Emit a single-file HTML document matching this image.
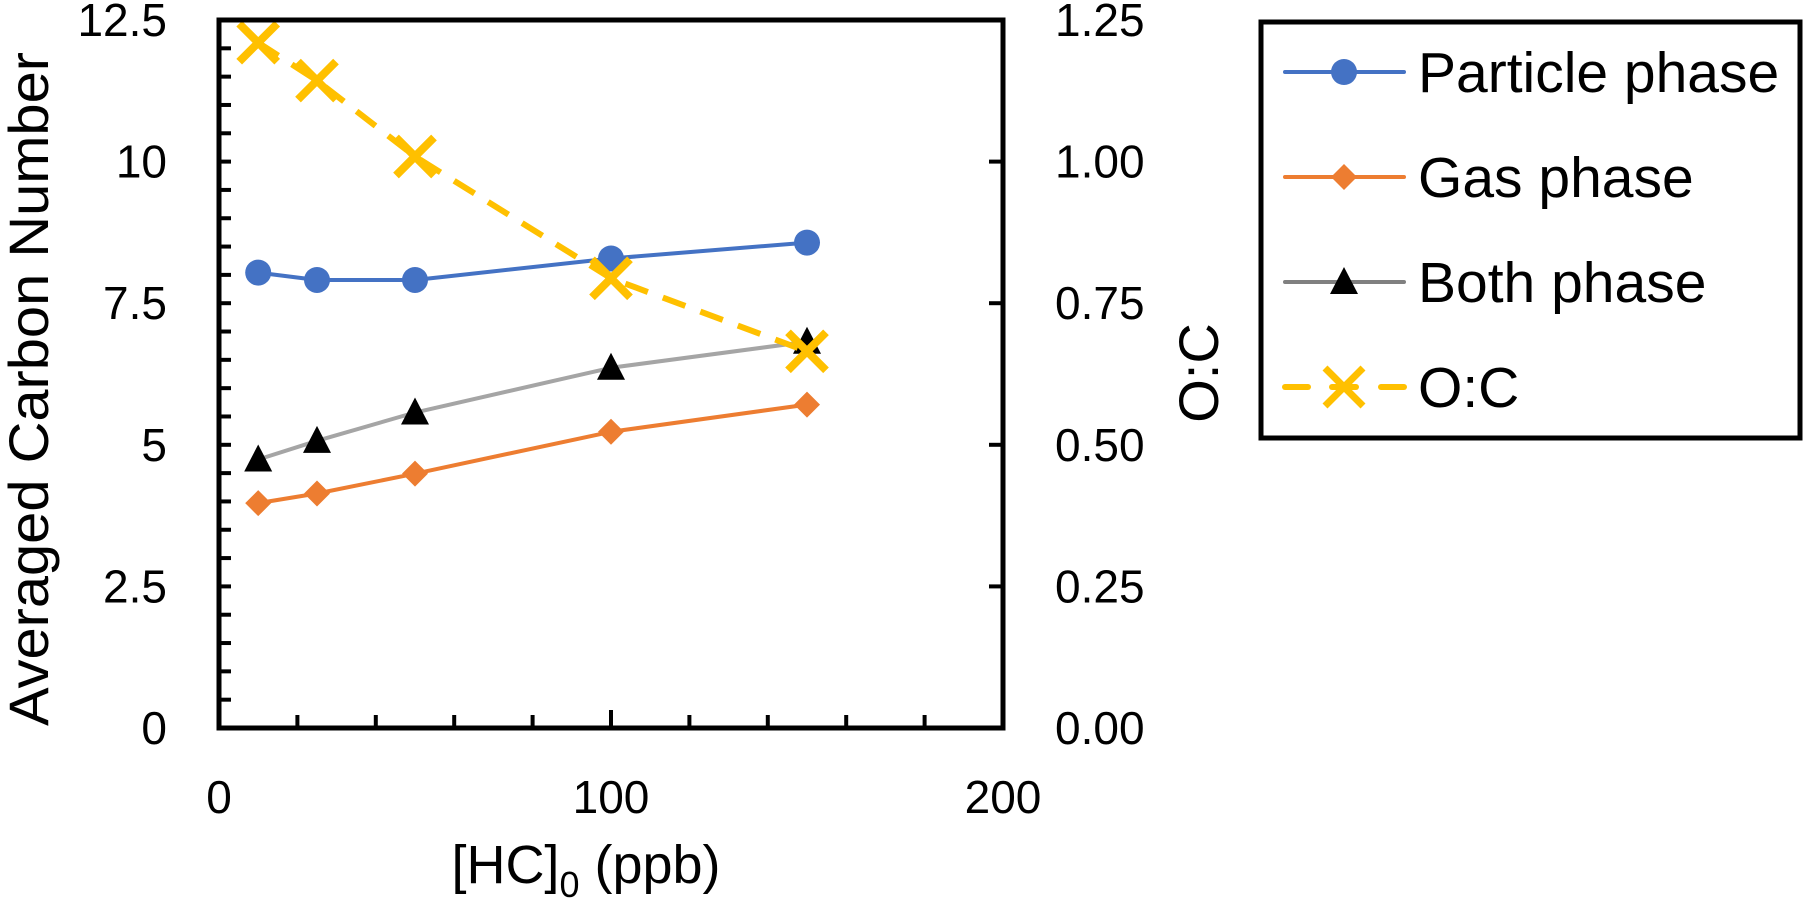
<!DOCTYPE html>
<html><head><meta charset="utf-8">
<style>
html,body{margin:0;padding:0;background:#fff;}
svg{display:block;font-family:"Liberation Sans",sans-serif;}
</style></head>
<body>
<svg id="chart" width="1805" height="900" viewBox="0 0 1805 900" xmlns="http://www.w3.org/2000/svg">
<rect x="0" y="0" width="1805" height="900" fill="#fff"/>
<g id="grid"></g>
<g id="series"></g>
<g id="axes"></g>
<g id="legend"></g>
</svg>
<script>
const categories = [10, 25, 50, 100, 150];
const particleValues = [8.04, 7.91, 7.91, 8.29, 8.57];
const gasValues = [3.97, 4.14, 4.49, 5.23, 5.71];
const bothValues = [4.74, 5.07, 5.57, 6.36, 6.82];
const ocValues = [1.21, 1.143, 1.009, 0.794, 0.665];
const xTicks = [0, 100, 200];
const yLeftTicks = ["0", "2.5", "5", "7.5", "10", "12.5"];
const yRightTicks = ["0.00", "0.25", "0.50", "0.75", "1.00", "1.25"];

const NS = "http://www.w3.org/2000/svg";
const L = 219, R = 1003, T = 20, B = 728;
function xs(v){ return L + (v - 0) / 200 * (R - L); }
function yl(v){ return B - v / 12.5 * (B - T); }
function yr(v){ return B - v / 1.25 * (B - T); }
function mk(tag, attrs, parent){
  const e = document.createElementNS(NS, tag);
  for (const k in attrs) e.setAttribute(k, attrs[k]);
  parent.appendChild(e);
  return e;
}
const axes = document.getElementById('axes');
const series = document.getElementById('series');
const legend = document.getElementById('legend');

function line(vals, yf, color, w, dash, name){
  const pts = categories.map((c,i)=>xs(c)+','+yf(vals[i])).join(' ');
  const p = mk('polyline', {points: pts, fill:'none', stroke:color, 'stroke-width':w, 'stroke-linejoin':'round', 'stroke-linecap': dash ? 'butt':'round'}, series);
  if (dash) p.setAttribute('stroke-dasharray', dash);
  
  
}
function circle(cx, cy, parent, name){
  const e = mk('circle', {cx:cx, cy:cy, r:13, fill:'#4472C4'}, parent);
  
  
}
function diamond(cx, cy, parent, name){
  const s = 13;
  const e = mk('polygon', {points:`${cx},${cy-s} ${cx+s},${cy} ${cx},${cy+s} ${cx-s},${cy}`, fill:'#ED7D31'}, parent);
  
  
}
function tri(cx, cy, parent, name){
  const e = mk('polygon', {points:`${cx},${cy-15} ${cx+14},${cy+12} ${cx-14},${cy+12}`, fill:'#000'}, parent);
  
  
}
function cross(cx, cy, parent, name){
  const s = 19;
  const e = mk('path', {d:`M${cx-s},${cy-s}L${cx+s},${cy+s}M${cx+s},${cy-s}L${cx-s},${cy+s}`, stroke:'#FFC000', 'stroke-width':8, fill:'none'}, parent);
  
  
}
line(particleValues, yl, '#4472C4', 4, null, 'particle-phase-line');
line(gasValues, yl, '#ED7D31', 4, null, 'gas-phase-line');
line(bothValues, yl, '#A5A5A5', 4, null, 'both-phase-line');
categories.forEach((c,i)=>{
  circle(xs(c), yl(particleValues[i]), series, 'particle-point');
  diamond(xs(c), yl(gasValues[i]), series, 'gas-point');
  tri(xs(c), yl(bothValues[i]), series, 'both-point');
});
line(ocValues, yr, '#FFC000', 6, '24 16', 'oc-line');
categories.forEach((c,i)=>{ cross(xs(c), yr(ocValues[i]), series, 'oc-point'); });

const frame = mk('rect', {x:L, y:T, width:R-L, height:B-T, fill:'none', stroke:'#000', 'stroke-width':5}, axes);



for (let v = 0.5; v < 12.5; v += 0.5){
  const t = mk('line', {x1:L, x2:L+12, y1:yl(v), y2:yl(v), stroke:'#000', 'stroke-width':4}, axes);
  
  
}
yRightTicks.forEach((lab,i)=>{
  const y = yr(i*0.25);
  const t = mk('line', {x1:R-14, x2:R, y1:y, y2:y, stroke:'#000', 'stroke-width':4}, axes);
  
  
  const tx = mk('text', {x:1055, y:y+16, 'font-size':46, fill:'#000'}, axes);
  tx.textContent = lab;
  
  
});
yLeftTicks.forEach((lab,i)=>{
  const y = yl(i*2.5);
  const tx = mk('text', {x:167, y:y+16, 'font-size':46, 'text-anchor':'end', fill:'#000'}, axes);
  tx.textContent = lab;
  
  
});
for (let v = 20; v < 200; v += 20){
  const len = (v === 100) ? 18 : 13;
  const t = mk('line', {x1:xs(v), x2:xs(v), y1:B, y2:B-len, stroke:'#000', 'stroke-width':4}, axes);
  
  
}
xTicks.forEach(v=>{
  const tx = mk('text', {x:xs(v), y:813, 'font-size':46, 'text-anchor':'middle', fill:'#000'}, axes);
  tx.textContent = String(v);
  
  
});
</script>
<svg style="position:absolute;left:0;top:0" width="1805" height="900" viewBox="0 0 1805 900">
<text x="586" y="883" font-size="54" text-anchor="middle" font-family="Liberation Sans, sans-serif">[HC]<tspan font-size="36" dy="14">0</tspan><tspan dy="-14"> (ppb)</tspan></text>
<text transform="translate(48,389) rotate(-90)" font-size="56" text-anchor="middle" textLength="674" lengthAdjust="spacingAndGlyphs" font-family="Liberation Sans, sans-serif">Averaged Carbon Number</text>
<text transform="translate(1218,373) rotate(-90)" font-size="56" text-anchor="middle" font-family="Liberation Sans, sans-serif">O:C</text>
<g>
<rect x="1261" y="22" width="539" height="416" fill="#fff" stroke="#000" stroke-width="5"/>
<g>
<line x1="1285" y1="72" x2="1404" y2="72" stroke="#4472C4" stroke-width="4" stroke-linecap="round"/>
<circle cx="1344" cy="72" r="13" fill="#4472C4"/>
<text x="1418" y="92" font-size="57" font-family="Liberation Sans, sans-serif">Particle phase</text>
</g>
<g>
<line x1="1285" y1="177" x2="1404" y2="177" stroke="#ED7D31" stroke-width="4" stroke-linecap="round"/>
<polygon points="1344,164 1357,177 1344,190 1331,177" fill="#ED7D31"/>
<text x="1418" y="197" font-size="57" font-family="Liberation Sans, sans-serif">Gas phase</text>
</g>
<g>
<line x1="1285" y1="282" x2="1404" y2="282" stroke="#808080" stroke-width="4" stroke-linecap="round"/>
<polygon points="1344,267 1358,294 1330,294" fill="#000"/>
<text x="1418" y="302" font-size="57" font-family="Liberation Sans, sans-serif">Both phase</text>
</g>
<g>
<line x1="1285" y1="387" x2="1308" y2="387" stroke="#FFC000" stroke-width="6" stroke-linecap="round"/>
<line x1="1332" y1="387" x2="1356" y2="387" stroke="#FFC000" stroke-width="6" stroke-linecap="round"/>
<line x1="1381" y1="387" x2="1404" y2="387" stroke="#FFC000" stroke-width="6" stroke-linecap="round"/>
<path d="M1325,368L1363,406M1363,368L1325,406" stroke="#FFC000" stroke-width="7"/>
<text x="1418" y="407" font-size="57" font-family="Liberation Sans, sans-serif">O:C</text>
</g>
</g>
</svg>
</body></html>
